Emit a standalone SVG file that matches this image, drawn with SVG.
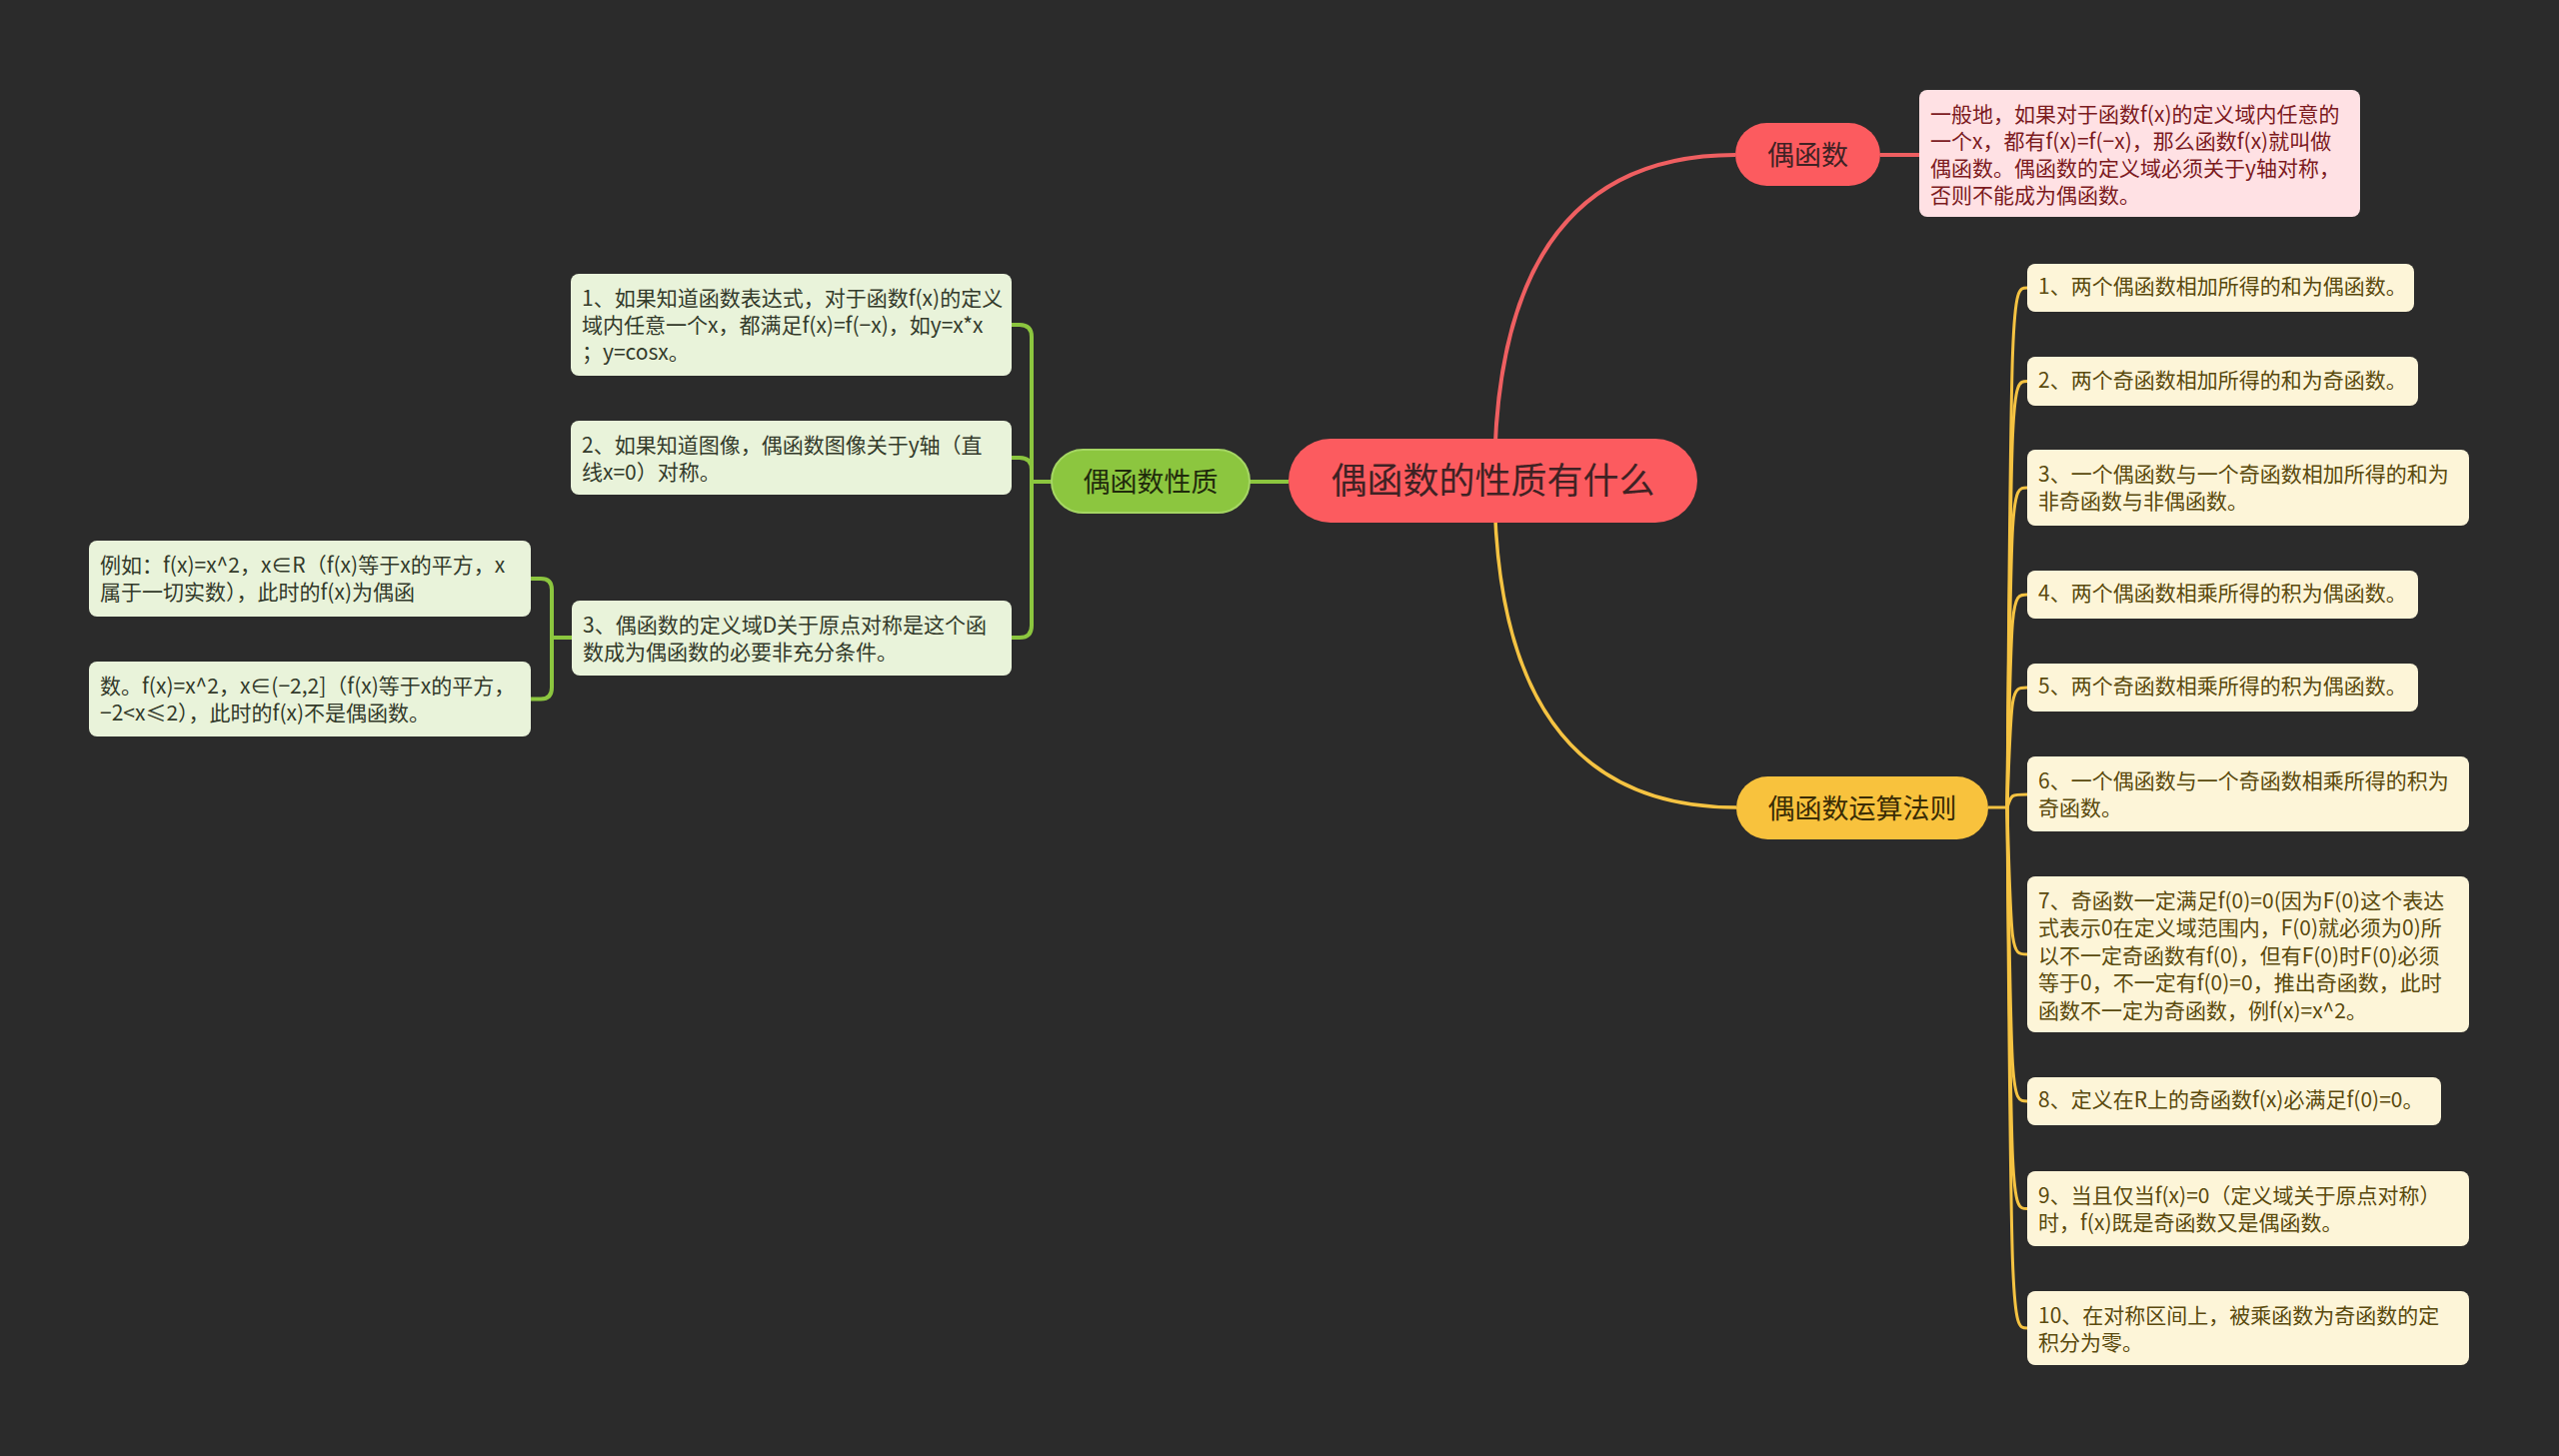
<svg xmlns="http://www.w3.org/2000/svg" width="2560" height="1457" viewBox="0 0 2560 1457">
<style>
text{font-family:"Noto Sans CJK SC","Noto Sans",sans-serif;}
.t{font-size:21px;}
.py{fill:#5a4a0e;}
.pg{fill:#333a2a;}
.pp{fill:#7c1b1f;}
.by{fill:#fdf5d8;}
.bg{fill:#e9f3da;}
.bp{fill:#ffe1e4;}
.ly{fill:none;stroke:#f5c342;stroke-width:3;}
.lg{fill:none;stroke:#8cc63f;stroke-width:4;}
.lr{fill:none;stroke:#ef5f61;stroke-width:4;}
.big{font-size:27px;text-anchor:middle;}
</style>
<rect x="0" y="0" width="2560" height="1457" fill="#2b2b2b"/>
<g id="connectors">
<path class="lr" d="M1495,481 Q1495,155 1736,155"/>
<path class="lr" d="M1881,155 H1920"/>
<path class="ly" style="stroke-width:3.5" d="M1495,481 Q1495,808 1737,808"/>
<path class="lg" d="M1250,482 H1289"/>
<path class="ly" d="M1989,808 H2008"/>
<path class="ly" d="M2008,808 C2012,288 2012,288 2028,288"/>
<path class="ly" d="M2008,808 C2012,381.5 2012,381.5 2028,381.5"/>
<path class="ly" d="M2008,808 C2012,488 2012,488 2028,488"/>
<path class="ly" d="M2008,808 C2012,595 2012,595 2028,595"/>
<path class="ly" d="M2008,808 C2012,688 2012,688 2028,688"/>
<path class="ly" d="M2008,808 C2012,795 2012,795 2028,795"/>
<path class="ly" d="M2008,808 C2012,955 2012,955 2028,955"/>
<path class="ly" d="M2008,808 C2012,1102 2012,1102 2028,1102"/>
<path class="ly" d="M2008,808 C2012,1209.5 2012,1209.5 2028,1209.5"/>
<path class="ly" d="M2008,808 C2012,1329 2012,1329 2028,1329"/>
<path class="lg" d="M1012,325 H1020 Q1032,325 1032,337 V626 Q1032,638 1020,638 H1012"/>
<path class="lg" d="M1012,458 H1020 Q1032,458 1032,470"/>
<path class="lg" d="M1032,482 H1052"/>
<path class="lg" d="M531,579 H541 Q552,579 552,590 V688 Q552,699.5 541,699.5 H531"/>
<path class="lg" d="M552,638 H572"/>
</g>
<g id="root">
<rect x="1289" y="439" width="409" height="84" rx="42" fill="#fc5b5f"/>
<text x="1493.5" y="494" style="font-size:36px;text-anchor:middle;fill:#3f2224">偶函数的性质有什么</text>
</g>
<g id="n-even">
<rect x="1736" y="123" width="145" height="63" rx="31.5" fill="#fc5b5f"/>
<text class="big" x="1808.5" y="164.5" style="fill:#3f2224">偶函数</text>
</g>
<g id="n-even-desc">
<rect class="bp" x="1920" y="90" width="441" height="127" rx="8"/>
<text class="t pp" x="1931" y="122">一般地，如果对于函数f(x)的定义域内任意的<tspan x="1931" dy="27">一个x，都有f(x)=f(−x)，那么函数f(x)就叫做</tspan><tspan x="1931" dy="27">偶函数。偶函数的定义域必须关于y轴对称，</tspan><tspan x="1931" dy="27">否则不能成为偶函数。</tspan></text>
</g>
<g id="n-prop">
<rect x="1052" y="450" width="198" height="63" rx="31.5" fill="#8cc63f" stroke="#a5d663" stroke-width="2"/>
<text class="big" x="1151" y="491.5" style="fill:#1f2a0c">偶函数性质</text>
</g>
<g id="n-rule">
<rect x="1737" y="777" width="252" height="63" rx="31.5" fill="#f8c23d"/>
<text class="big" x="1863" y="818.5" style="fill:#3a2c05">偶函数运算法则</text>
</g>
<g id="g1">
<rect class="bg" x="571" y="274" width="441" height="102" rx="8"/>
<text class="t pg" x="582" y="306">1、如果知道函数表达式，对于函数f(x)的定义<tspan x="582" dy="27">域内任意一个x，都满足f(x)=f(−x)，如y=x*x</tspan><tspan x="582" dy="27">；y=cosx。</tspan></text>
</g>
<g id="g2">
<rect class="bg" x="571" y="421" width="441" height="74" rx="8"/>
<text class="t pg" x="582" y="453">2、如果知道图像，偶函数图像关于y轴（直<tspan x="582" dy="27">线x=0）对称。</tspan></text>
</g>
<g id="g3">
<rect class="bg" x="572" y="601" width="440" height="75" rx="8"/>
<text class="t pg" x="583" y="633">3、偶函数的定义域D关于原点对称是这个函<tspan x="583" dy="27">数成为偶函数的必要非充分条件。</tspan></text>
</g>
<g id="e1">
<rect class="bg" x="89" y="541" width="442" height="76" rx="8"/>
<text class="t pg" x="100" y="573">例如：f(x)=x^2，x∈R（f(x)等于x的平方，x<tspan x="100" dy="27">属于一切实数），此时的f(x)为偶函</tspan></text>
</g>
<g id="e2">
<rect class="bg" x="89" y="662" width="442" height="75" rx="8"/>
<text class="t pg" x="100" y="694">数。f(x)=x^2，x∈(−2,2]（f(x)等于x的平方，<tspan x="100" dy="27">−2&lt;x≤2），此时的f(x)不是偶函数。</tspan></text>
</g>
<g id="y1">
<rect class="by" x="2028" y="264" width="387" height="48" rx="8"/>
<text class="t py" x="2039" y="294">1、两个偶函数相加所得的和为偶函数。</text>
</g>
<g id="y2">
<rect class="by" x="2028" y="357" width="391" height="49" rx="8"/>
<text class="t py" x="2039" y="387.5">2、两个奇函数相加所得的和为奇函数。</text>
</g>
<g id="y3">
<rect class="by" x="2028" y="450" width="442" height="76" rx="8"/>
<text class="t py" x="2039" y="482">3、一个偶函数与一个奇函数相加所得的和为<tspan x="2039" dy="27">非奇函数与非偶函数。</tspan></text>
</g>
<g id="y4">
<rect class="by" x="2028" y="571" width="391" height="48" rx="8"/>
<text class="t py" x="2039" y="601">4、两个偶函数相乘所得的积为偶函数。</text>
</g>
<g id="y5">
<rect class="by" x="2028" y="664" width="391" height="48" rx="8"/>
<text class="t py" x="2039" y="694">5、两个奇函数相乘所得的积为偶函数。</text>
</g>
<g id="y6">
<rect class="by" x="2028" y="757" width="442" height="75" rx="8"/>
<text class="t py" x="2039" y="789">6、一个偶函数与一个奇函数相乘所得的积为<tspan x="2039" dy="27">奇函数。</tspan></text>
</g>
<g id="y7">
<rect class="by" x="2028" y="877" width="442" height="156" rx="8"/>
<text class="t py" x="2039" y="909">7、奇函数一定满足f(0)=0(因为F(0)这个表达<tspan x="2039" dy="27.4">式表示0在定义域范围内，F(0)就必须为0)所</tspan><tspan x="2039" dy="27.4">以不一定奇函数有f(0)，但有F(0)时F(0)必须</tspan><tspan x="2039" dy="27.4">等于0，不一定有f(0)=0，推出奇函数，此时</tspan><tspan x="2039" dy="27.4">函数不一定为奇函数，例f(x)=x^2。</tspan></text>
</g>
<g id="y8">
<rect class="by" x="2028" y="1078" width="414" height="48" rx="8"/>
<text class="t py" x="2039" y="1108">8、定义在R上的奇函数f(x)必满足f(0)=0。</text>
</g>
<g id="y9">
<rect class="by" x="2028" y="1172" width="442" height="75" rx="8"/>
<text class="t py" x="2039" y="1204">9、当且仅当f(x)=0（定义域关于原点对称）<tspan x="2039" dy="27">时，f(x)既是奇函数又是偶函数。</tspan></text>
</g>
<g id="y10">
<rect class="by" x="2028" y="1292" width="442" height="74" rx="8"/>
<text class="t py" x="2039" y="1324">10、在对称区间上，被乘函数为奇函数的定<tspan x="2039" dy="27">积分为零。</tspan></text>
</g>
</svg>
